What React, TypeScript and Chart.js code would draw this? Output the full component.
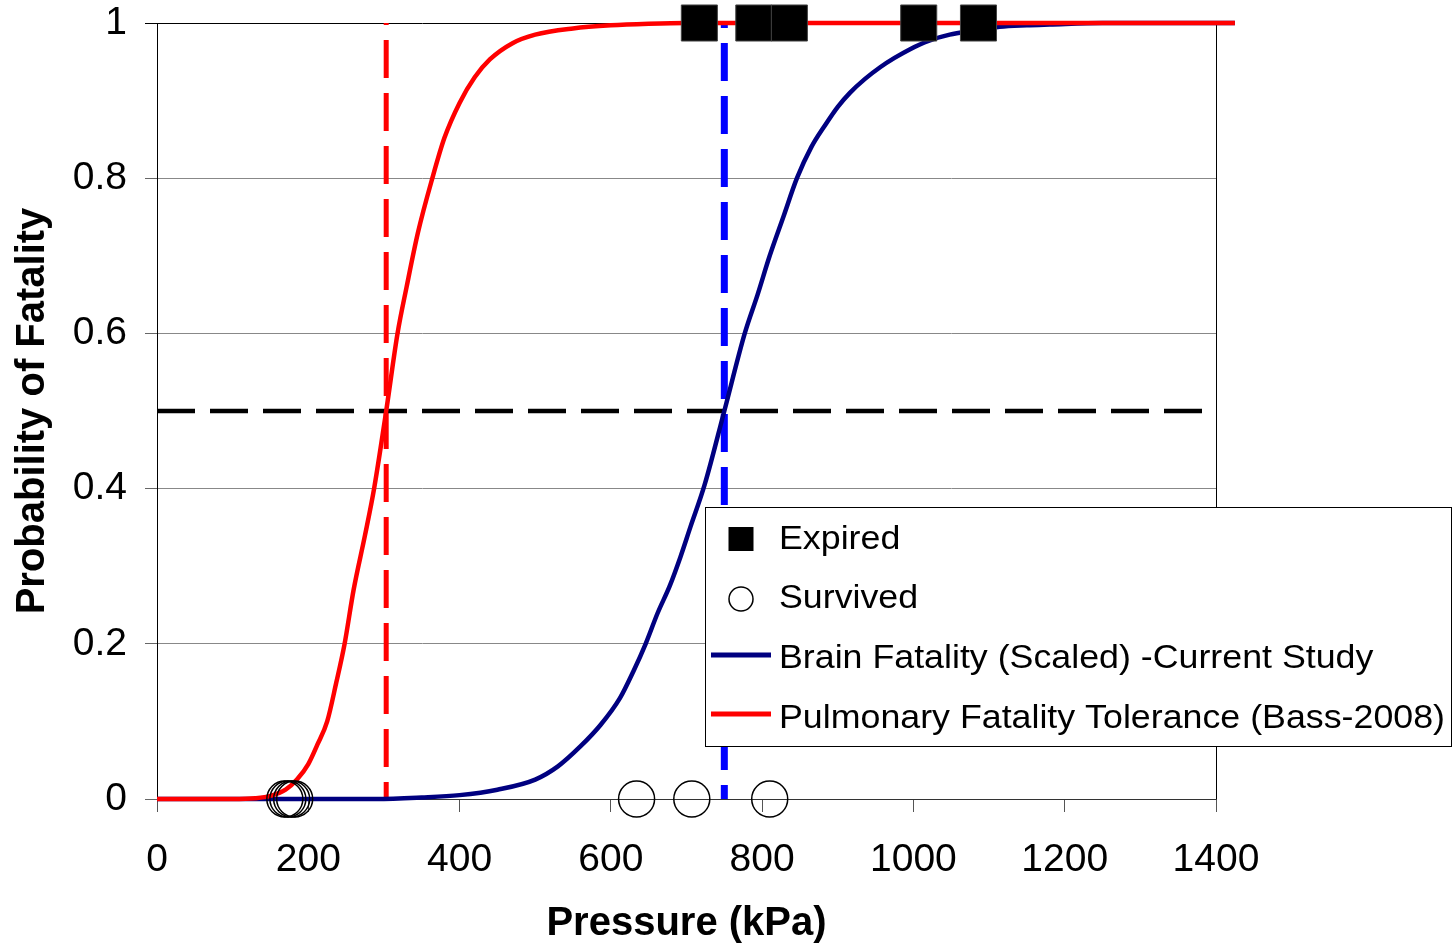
import React, { useEffect, useRef } from 'react';
import { Chart, registerables } from 'chart.js';

Chart.register(...registerables);

const FONT = "'Liberation Sans', Arial, Helvetica, sans-serif";

// ---- data ----
const xTickValues = [0, 200, 400, 600, 800, 1000, 1200, 1400];
const yTickLabels = ['0', '0.2', '0.4', '0.6', '0.8', '1'];

const pulmonaryX = [0, 100, 130, 150, 170, 185, 200, 212, 225, 237, 248, 260, 275, 287, 303, 318, 330, 345, 364, 380, 400, 420, 440, 470, 500, 550, 600, 650, 700, 1425];
const pulmonaryY = [0, 0, 0.001, 0.004, 0.012, 0.025, 0.045, 0.07, 0.1, 0.15, 0.2, 0.27, 0.34, 0.4, 0.5, 0.6, 0.66, 0.73, 0.8, 0.852, 0.897, 0.93, 0.953, 0.974, 0.985, 0.993, 0.997, 0.999, 1, 1];

const brainX = [0, 290, 350, 400, 450, 500, 530, 560, 586, 612, 630, 646, 662, 678, 692, 705, 724, 750, 777, 794, 810, 828, 846, 865, 883, 900, 916, 936, 956, 975, 995, 1020, 1048, 1080, 1114, 1150, 1180, 1250, 1425];
const brainY = [0, 0, 0.002, 0.005, 0.012, 0.025, 0.042, 0.068, 0.095, 0.13, 0.165, 0.2, 0.24, 0.275, 0.312, 0.35, 0.405, 0.5, 0.6, 0.65, 0.7, 0.75, 0.8, 0.84, 0.868, 0.892, 0.91, 0.928, 0.943, 0.955, 0.966, 0.977, 0.985, 0.99, 0.995, 0.997, 0.998, 1, 1];

const expiredX = [717, 789, 836, 1007, 1086];
const expiredY = [1, 1, 1, 1, 1];

const survivedX = [169, 173, 178, 182, 634, 707, 810];
const survivedY = [0, 0, 0, 0, 0, 0, 0];

const pulmonary50X = [303, 303];
const pulmonary50Y = [1, 0];
const brain50X = [750, 750];
const brain50Y = [1, 0];
const halfX = [0, 1400];
const halfY = [0.5, 0.5];

const legendLabels = [
  'Expired',
  'Survived',
  'Brain Fatality (Scaled) -Current Study',
  'Pulmonary Fatality Tolerance (Bass-2008)',
];

const NAVY = '#000080';
const RED = '#ff0000';
const BLUE = '#0000ff';

const pts = (xs: number[], ys: number[]) => xs.map((x, i) => ({ x, y: ys[i] }));

const framePlugin = {
  id: 'frame',
  beforeDatasetsDraw(chart: any) {
    const { ctx, chartArea } = chart;
    ctx.save();
    ctx.strokeStyle = '#000000';
    ctx.lineWidth = 1;
    ctx.beginPath();
    ctx.moveTo(Math.round(chartArea.right) + 0.5, chartArea.top);
    ctx.lineTo(Math.round(chartArea.right) + 0.5, chartArea.bottom);
    ctx.stroke();
    ctx.restore();
  },
};

const legendPlugin = {
  id: 'customLegend',
  afterDraw(chart: any) {
    const { ctx } = chart;
    const left = 705, top = 507, right = 1451, bottom = 746;
    ctx.save();
    ctx.fillStyle = '#ffffff';
    ctx.fillRect(left, top, right - left, bottom - top);
    ctx.strokeStyle = '#000000';
    ctx.lineWidth = 1;
    ctx.strokeRect(left + 0.5, top + 0.5, right - left, bottom - top);

    const baselines = [549, 608, 668, 728];
    const centers = [539, 599, 655, 714];
    const mx = 741;
    ctx.fillStyle = '#000000';
    ctx.fillRect(mx - 12.5, centers[0] - 12, 25, 24);
    ctx.beginPath();
    ctx.arc(mx, centers[1], 12, 0, Math.PI * 2);
    ctx.strokeStyle = '#000000';
    ctx.lineWidth = 1.5;
    ctx.stroke();
    ctx.lineWidth = 5;
    ctx.strokeStyle = NAVY;
    ctx.beginPath();
    ctx.moveTo(711, centers[2]);
    ctx.lineTo(771, centers[2]);
    ctx.stroke();
    ctx.strokeStyle = RED;
    ctx.beginPath();
    ctx.moveTo(711, centers[3]);
    ctx.lineTo(771, centers[3]);
    ctx.stroke();

    ctx.fillStyle = '#000000';
    ctx.font = `34px ${FONT}`;
    ctx.textAlign = 'left';
    ctx.textBaseline = 'alphabetic';
    legendLabels.forEach((t, i) => {
      ctx.save();
      ctx.translate(779, baselines[i]);
      ctx.scale(1.052, 1);
      ctx.fillText(t, 0, 0);
      ctx.restore();
    });
    ctx.restore();
  },
};

export default function App() {
  const ref = useRef<HTMLCanvasElement | null>(null);

  useEffect(() => {
    if (!ref.current) return;
    const chart = new Chart(ref.current, {
      type: 'scatter',
      data: {
        datasets: [
          {
            label: legendLabels[0],
            data: pts(expiredX, expiredY),
            pointStyle: 'rect',
            pointRadius: 25.5,
            pointBackgroundColor: '#000000',
            pointBorderColor: '#444444',
            pointBorderWidth: 1,
            showLine: false,
            clip: false,
          } as any,
          {
            label: legendLabels[1],
            data: pts(survivedX, survivedY),
            pointStyle: 'circle',
            pointRadius: 18,
            pointBackgroundColor: 'rgba(0,0,0,0)',
            pointBorderColor: '#000000',
            pointBorderWidth: 1.5,
            showLine: false,
            clip: false,
          },
          {
            label: legendLabels[3],
            data: pts(pulmonaryX, pulmonaryY),
            showLine: true,
            borderColor: RED,
            borderWidth: 4.5,
            pointRadius: 0,
            cubicInterpolationMode: 'monotone',
            clip: false,
          },
          {
            label: legendLabels[2],
            data: pts(brainX, brainY),
            showLine: true,
            borderColor: NAVY,
            borderWidth: 4.5,
            pointRadius: 0,
            cubicInterpolationMode: 'monotone',
            clip: false,
          },
          {
            label: 'P50 line',
            data: pts(halfX, halfY),
            showLine: true,
            borderColor: '#000000',
            borderWidth: 4.5,
            borderDash: [38, 15],
            pointRadius: 0,
            clip: false,
          },
          {
            label: 'Pulmonary 50%',
            data: pts(pulmonary50X, pulmonary50Y),
            showLine: true,
            borderColor: RED,
            borderWidth: 5,
            borderDash: [38, 15],
            borderDashOffset: -17,
            pointRadius: 0,
            clip: false,
          },
          {
            label: 'Brain 50%',
            data: pts(brain50X, brain50Y),
            showLine: true,
            borderColor: BLUE,
            borderWidth: 7,
            borderDash: [38, 15],
            borderDashOffset: -20,
            pointRadius: 0,
            clip: false,
          },
        ],
      },
      options: {
        responsive: false,
        animation: false,
        devicePixelRatio: 1,
        layout: { autoPadding: false, padding: { left: 0, right: 240, top: 23, bottom: 0 } },
        plugins: {
          legend: { display: false },
          tooltip: { enabled: false },
        },
        scales: {
          x: {
            type: 'linear',
            min: 0,
            max: 1400,
            afterBuildTicks: (scale: any) => {
              scale.ticks = xTickValues.map((v) => ({ value: v }));
            },
            afterFit: (scale: any) => {
              scale.height = 145;
              scale.paddingLeft = 0;
              scale.paddingRight = 0;
            },
            ticks: {
              color: '#000000',
              font: { family: FONT, size: 39 },
              padding: 25,
              maxRotation: 0,
              autoSkip: false,
              callback: (v: any) => String(v),
            },
            grid: {
              drawOnChartArea: false,
              drawTicks: true,
              tickLength: 13,
              tickColor: '#555555',
              tickWidth: 1,
            },
            border: { display: true, color: '#333333', width: 1 },
            title: {
              display: true,
              text: 'Pressure (kPa)',
              color: '#000000',
              font: { family: FONT, size: 40, weight: 'bold', lineHeight: 1.0 },
              padding: { top: 0, bottom: 0 },
            },
          },
          y: {
            type: 'linear',
            min: 0,
            max: 1,
            afterBuildTicks: (scale: any) => {
              scale.ticks = yTickLabels.map((_, i) => ({ value: i * 0.2 }));
            },
            afterFit: (scale: any) => {
              scale.width = 157;
              scale.paddingTop = 0;
              scale.paddingBottom = 0;
            },
            ticks: {
              color: '#000000',
              font: { family: FONT, size: 39 },
              padding: 18,
              autoSkip: false,
              callback: (_v: any, i: number) => yTickLabels[i],
            },
            grid: {
              drawOnChartArea: true,
              drawTicks: true,
              tickLength: 12,
              color: (c: any) => (c.index === 5 ? '#000000' : c.index === 0 ? '#333333' : '#888888'),
              tickColor: (c: any) => (c.index === 5 ? '#000000' : '#666666'),
              lineWidth: 1,
            },
            border: { display: true, color: '#000000', width: 1 },
            title: {
              display: true,
              text: 'Probability of Fatality',
              color: '#000000',
              font: { family: FONT, size: 40, weight: 'bold', lineHeight: 1.2 },
              padding: { top: 9, bottom: 0 },
            },
          },
        },
      } as any,
      plugins: [framePlugin, legendPlugin],
    });
    return () => chart.destroy();
  }, []);

  return (
    <div style={{ position: 'absolute', left: 0, top: 0, width: 1456, height: 944, background: '#ffffff' }}>
      <canvas ref={ref} width={1456} height={944} />
    </div>
  );
}
